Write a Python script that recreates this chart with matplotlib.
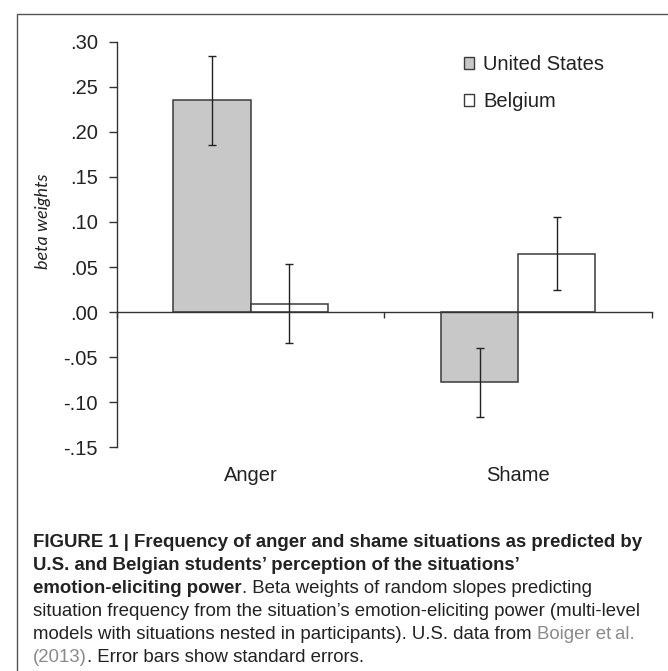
import matplotlib
matplotlib.use("Agg")
import matplotlib.pyplot as plt
from matplotlib.patches import Rectangle
import numpy as np

# ---- data ----
categories = ["Anger", "Shame"]
series_names = ["United States", "Belgium"]
us_values = [0.235, -0.078]
us_se = [0.0495, 0.038]
be_values = [0.0095, 0.065]
be_se = [0.0435, 0.041]
y_ticks = [0.30, 0.25, 0.20, 0.15, 0.10, 0.05, 0.00, -0.05, -0.10, -0.15]
y_tick_labels = [".30", ".25", ".20", ".15", ".10", ".05", ".00", "-.05", "-.10", "-.15"]
y_label = "beta weights"

caption_lines = [
    [("FIGURE 1 | Frequency of anger and shame situations as predicted by", "bold")],
    [("U.S. and Belgian students\u2019 perception of the situations\u2019", "bold")],
    [("emotion-eliciting power", "bold"), (". Beta weights of random slopes predicting", "normal")],
    [("situation frequency from the situation\u2019s emotion-eliciting power (multi-level", "normal")],
    [("models with situations nested in participants). U.S. data from", "normal"), (" ", "space"), ("Boiger et\u2009al.", "link")],
    [("(2013)", "link"), (". Error bars show standard errors.", "normal")],
]

W, H = 668, 671
DPI = 100
fig = plt.figure(figsize=(W / DPI, H / DPI), dpi=DPI)
fig.patch.set_facecolor("white")

chart_font = ["Liberation Sans", "DejaVu Sans"]
fs = 14.5

# axes placement (pixels)
ax_left, ax_right = 116.7, 652.0
ax_top, ax_bottom = 41.7, 447.3
ax = fig.add_axes([ax_left / W, 1 - ax_bottom / H, (ax_right - ax_left) / W, (ax_bottom - ax_top) / H])

x = np.arange(len(categories))
w = 0.288
ax.bar(x - w / 2, us_values, width=w, color="#c8c8c8", edgecolor="#3a3a3a", linewidth=1.1, zorder=2,
       label=series_names[0])
ax.bar(x + w / 2, be_values, width=w, color="white", edgecolor="#3a3a3a", linewidth=1.1, zorder=2,
       label=series_names[1])
ax.errorbar(x - w / 2, us_values, yerr=us_se, fmt="none", ecolor="#222222", elinewidth=1.0,
            capsize=3.2, capthick=1.0, zorder=3)
ax.errorbar(x + w / 2, be_values, yerr=be_se, fmt="none", ecolor="#222222", elinewidth=1.0,
            capsize=3.2, capthick=1.0, zorder=3)

ax.set_xlim(-0.5, len(categories) - 0.5)
ax.set_ylim(-0.15, 0.30)

for s in ["top", "right"]:
    ax.spines[s].set_visible(False)
ax.spines["bottom"].set_position(("data", 0))
for s in ["left", "bottom"]:
    ax.spines[s].set_color("#333333")
    ax.spines[s].set_linewidth(1.0)
    ax.spines[s].set_zorder(4)

ax.set_yticks(y_ticks)
ax.set_yticklabels(y_tick_labels, fontfamily=chart_font, fontsize=fs, color="#222222")
ax.tick_params(axis="y", direction="out", length=5.5, width=1.0, color="#333333", pad=8)
ax.set_xticks(np.arange(len(categories) + 1) - 0.5)
ax.set_xticklabels([])
ax.tick_params(axis="x", direction="out", length=4.3, width=1.0, color="#333333")

for xi, cat in zip(x, categories):
    ax.text(xi, -0.069, cat, transform=ax.get_xaxis_transform(), ha="center", va="center",
            fontfamily=chart_font, fontsize=fs, color="#222222")

ax.set_ylabel(y_label, fontfamily=["Lato", "DejaVu Sans"], fontstyle="italic", fontsize=13,
              color="#222222")
ax.yaxis.label.set_va("center")
ax.yaxis.set_label_coords((43 - ax_left) / (ax_right - ax_left), (ax_bottom - 221) / (ax_bottom - ax_top))

leg = ax.legend(loc="upper left", bbox_to_anchor=(464 / W, 1 - 55 / H), bbox_transform=fig.transFigure,
                frameon=False, borderpad=0, borderaxespad=0, handlelength=0.5, handleheight=0.6,
                handletextpad=0.45, labelspacing=0.9,
                prop={"family": chart_font, "size": fs})
for t in leg.get_texts():
    t.set_color("#222222")
for p in leg.get_patches():
    p.set_linewidth(1.0)

# outer frame (top and left visible)
fig.add_artist(Rectangle((16.7 / W, -0.2), 1.5, 1 - 14 / H + 0.2, transform=fig.transFigure,
                         fill=False, edgecolor="#555555", linewidth=1.0))

# caption
cap_font = ["Liberation Sans Narrow", "Liberation Sans", "DejaVu Sans"]
renderer = fig.canvas.get_renderer()
probe = fig.text(0, 0, caption_lines[3][0][0], fontfamily=cap_font, fontsize=10)
pw = probe.get_window_extent(renderer).width
probe.remove()
cfs = 10 * 612 / pw

def measure(s, weight):
    t = fig.text(0, 0, s, fontfamily=cap_font, fontsize=cfs, fontweight=weight)
    wd = t.get_window_extent(renderer).width
    t.remove()
    return wd

space_w = measure("a a", "normal") - measure("aa", "normal")

x0 = 33
baselines = [547, 570, 593, 616, 639, 662]
for line, base in zip(caption_lines, baselines):
    xp = x0
    for s, kind in line:
        if kind == "space":
            xp += space_w
            continue
        weight = "bold" if kind == "bold" else "normal"
        color = "#8a8a8a" if kind == "link" else "#222222"
        t = fig.text(xp / W, 1 - base / H, s, fontfamily=cap_font, fontsize=cfs, fontweight=weight,
                     color=color, ha="left", va="baseline")
        xp = t.get_window_extent(renderer).x1

fig.savefig("out.png", dpi=DPI)
